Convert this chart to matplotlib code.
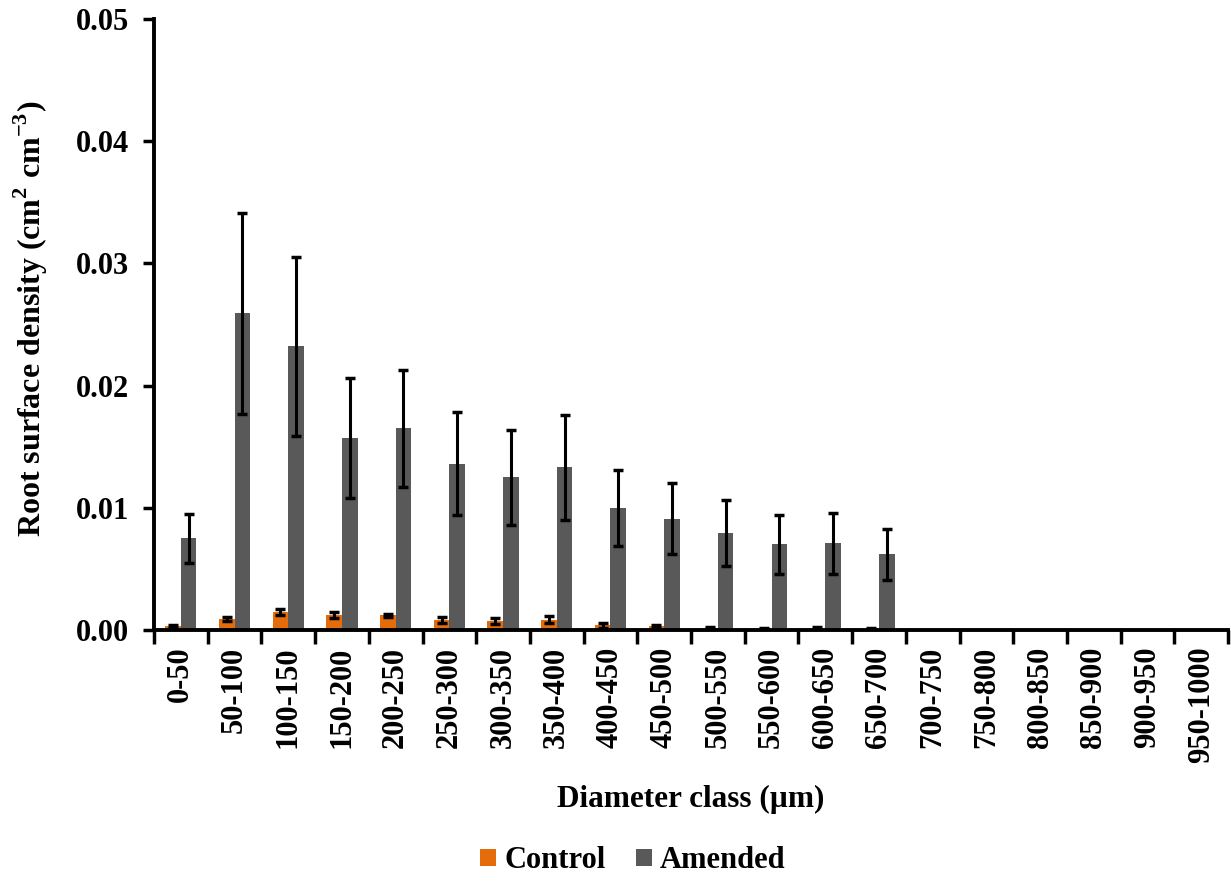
import matplotlib
matplotlib.use("Agg")
import matplotlib.pyplot as plt
import numpy as np

categories = ["0-50", "50-100", "100-150", "150-200", "200-250", "250-300", "300-350",
              "350-400", "400-450", "450-500", "500-550", "550-600", "600-650", "650-700",
              "700-750", "750-800", "800-850", "850-900", "900-950", "950-1000"]
control = [0.0003, 0.0009, 0.0015, 0.0012, 0.0012, 0.0008, 0.00075, 0.00085, 0.0004,
           0.0003, 0.00015, 0.0001, 0.00012, 0.0001, 0, 0, 0, 0, 0, 0]
control_err = [0.00015, 0.0002, 0.00025, 0.00025, 0.00012, 0.00025, 0.00022, 0.00027,
               0.0002, 0.0001, 0.0001, 0.0001, 0.0001, 0.0001, 0, 0, 0, 0, 0, 0]
amended = [0.0075, 0.0259, 0.0232, 0.0157, 0.0165, 0.0136, 0.0125, 0.0133, 0.0100,
           0.0091, 0.0079, 0.0070, 0.0071, 0.0062, 0, 0, 0, 0, 0, 0]
amended_err = [0.0020, 0.0082, 0.0073, 0.0049, 0.0048, 0.0042, 0.0039, 0.0043, 0.0031,
               0.0029, 0.0027, 0.0024, 0.0025, 0.0021, 0, 0, 0, 0, 0, 0]

plt.rcParams['font.family'] = ['Liberation Serif', 'DejaVu Serif']
plt.rcParams['font.weight'] = 'bold'
plt.rcParams['mathtext.fontset'] = 'custom'
plt.rcParams['mathtext.rm'] = 'Liberation Serif:bold'
plt.rcParams['mathtext.bf'] = 'Liberation Serif:bold'

fig = plt.figure(figsize=(12.31, 8.82), dpi=100)
ax = fig.add_axes([0.1251, 0.2857, 0.8725, 0.6928])

x = np.arange(len(categories))
w = 0.29
orange = '#E46C0A'
gray = '#595959'

n_err = 14
ax.bar(x - w / 2, control, width=w, color=orange, label='Control', zorder=2)
ax.bar(x + w / 2, amended, width=w, color=gray, label='Amended', zorder=2)
ax.errorbar(x[:n_err] - w / 2, control[:n_err], yerr=control_err[:n_err], fmt='none',
            ecolor='black', elinewidth=2.2, capsize=3.8, capthick=2.5, zorder=3)
ax.errorbar(x[:n_err] + w / 2, amended[:n_err], yerr=amended_err[:n_err], fmt='none',
            ecolor='black', elinewidth=2.2, capsize=3.8, capthick=2.5, zorder=3)

ax.set_xlim(-0.5, len(categories) - 0.5)
ax.set_ylim(0, 0.05)
ax.set_yticks([0, 0.01, 0.02, 0.03, 0.04, 0.05])
ax.set_yticklabels(['0.00', '0.01', '0.02', '0.03', '0.04', '0.05'], fontsize=22, fontweight='bold')
ax.set_xticks(x)
ax.set_xticklabels(categories, rotation=90, fontsize=22, fontweight='bold')
ax.set_xticks(np.arange(len(categories) + 1) - 0.5, minor=True)
ax.tick_params(axis='x', which='major', length=0, pad=12)
ax.tick_params(axis='x', which='minor', length=10, width=2.5, direction='out')
ax.tick_params(axis='y', which='major', length=8, width=2.5, direction='out', pad=10)

for s in ['top', 'right']:
    ax.spines[s].set_visible(False)
for s in ['left', 'bottom']:
    ax.spines[s].set_linewidth(2.8)

ax.set_ylabel(r'Root surface density (cm$^{2}$ cm$^{-3}$)', fontsize=23, fontweight='bold')
ax.yaxis.set_label_coords(-0.097, 0.51)
ax.set_xlabel('Diameter class (µm)', fontsize=22.5, fontweight='bold')
ax.xaxis.set_label_coords(0.5, -0.254)

fig.legend(loc='center', bbox_to_anchor=(0.514, 0.024), ncol=2, frameon=False,
           handlelength=0.52, handleheight=0.52, handletextpad=0.26,
           columnspacing=1.0, prop={'weight': 'bold', 'size': 22})

fig.savefig('out.png', dpi=100)
